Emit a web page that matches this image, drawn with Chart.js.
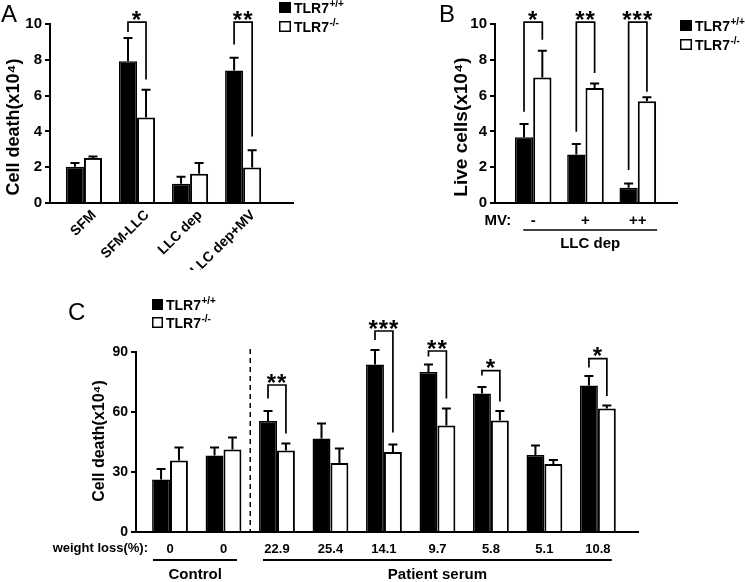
<!DOCTYPE html>
<html><head><meta charset="utf-8">
<script src="https://cdn.jsdelivr.net/npm/chart.js@4.4.0/dist/chart.umd.min.js"></script>
<style>
html,body{margin:0;padding:0;background:#fff;}
#wrap{position:relative;width:745px;height:582px;overflow:hidden;background:#fff;}
.pane{position:absolute;}
canvas{display:block;}
</style></head><body>
<div id="wrap">
<div class="pane" style="left:0;top:0;"><canvas id="cA" width="380" height="270"></canvas></div>
<div class="pane" style="left:380px;top:0;"><canvas id="cB" width="365" height="270"></canvas></div>
<div class="pane" style="left:0;top:270px;"><canvas id="cC" width="745" height="312"></canvas></div>
</div>
<script>
// ---------- data ----------
const seriesNames = ['TLR7', 'TLR7'];
const seriesSup = ['+/+', '-/-'];

// Panel A
const catsA = ['SFM', 'SFM-LLC', 'LLC dep', 'LLC dep+MV'];
const wtA = [2.03, 7.92, 1.08, 7.40];
const wtErrA = [0.21, 1.30, 0.38, 0.72];
const koA = [2.52, 4.78, 1.64, 1.99];
const koErrA = [0.08, 1.54, 0.60, 0.96];
const sigA = [
  {g: 1, top: 10.1, l: 9.55, r: 6.9, s: '*'},
  {g: 3, top: 10.1, l: 8.85, r: 3.72, s: '**'}
];

// Panel B
const catsB = ['-', '+', '++'];
const wtB = [3.67, 2.71, 0.85];
const wtErrB = [0.74, 0.58, 0.24];
const koB = [7.01, 6.42, 5.68];
const koErrB = [1.49, 0.26, 0.23];
const sigB = [
  {g: 0, top: 10.1, l: 5.1, r: 9.12, s: '*'},
  {g: 1, top: 10.1, l: 3.98, r: 7.26, s: '**'},
  {g: 2, top: 10.1, l: 1.85, r: 6.22, s: '***'}
];

// Panel C
const wlC = ['0', '0', '22.9', '25.4', '14.1', '9.7', '5.8', '5.1', '10.8'];
const wtC = [26.3, 38.2, 55.5, 46.8, 83.8, 80.0, 69.3, 38.5, 73.3];
const wtErrC = [5.2, 4.0, 5.0, 7.4, 7.2, 3.7, 3.2, 4.7, 4.7];
const koC = [35.7, 41.3, 40.8, 34.5, 40.0, 53.2, 55.7, 34.0, 61.7];
const koErrC = [6.6, 5.9, 3.4, 7.2, 3.8, 8.5, 4.8, 2.0, 1.6];
const sigC = [
  {g: 2, top: 73.5, l: 66.8, r: 49.3, s: '**'},
  {g: 4, top: 100.5, l: 96.0, r: 49.7, s: '***'},
  {g: 5, top: 90.5, l: 87.7, r: 66.8, s: '**'},
  {g: 6, top: 80.7, l: 78.2, r: 65.2, s: '*'},
  {g: 8, top: 86.7, l: 82.3, r: 68.0, s: '*'}
];

// ---------- helpers ----------
const FAM = "'Liberation Sans', Arial, Helvetica, sans-serif";
Chart.defaults.font.family = FAM;
Chart.defaults.font.weight = 'bold';
Chart.defaults.color = '#000';
Chart.defaults.animation = false;

function mkData(wt, wtE, ko, koE, cp) {
  return { datasets: [
    {label: seriesNames[0] + seriesSup[0], data: wt.map((v, i) => ({x: i, y: v})), errUp: wtE,
     backgroundColor: '#000', borderColor: '#000', borderWidth: 1.5, categoryPercentage: cp, barPercentage: 1},
    {label: seriesNames[1] + seriesSup[1], data: ko.map((v, i) => ({x: i, y: v})), errUp: koE,
     backgroundColor: '#fff', borderColor: '#000', borderWidth: 2, categoryPercentage: cp, barPercentage: 1}
  ]};
}

const errPlugin = {
  id: 'errbars',
  afterDatasetsDraw(chart) {
    const ctx = chart.ctx, ys = chart.scales.y;
    chart.data.datasets.forEach((ds, di) => {
      const meta = chart.getDatasetMeta(di);
      meta.data.forEach((bar, i) => {
        const v = ds.data[i].y, e = ds.errUp[i];
        const x = bar.x, y0 = ys.getPixelForValue(v), y1 = ys.getPixelForValue(v + e);
        ctx.save();
        ctx.strokeStyle = '#000'; ctx.lineWidth = 2;
        ctx.beginPath();
        ctx.moveTo(x, y0); ctx.lineTo(x, y1);
        ctx.moveTo(x - 4.5, y1); ctx.lineTo(x + 4.5, y1);
        ctx.stroke();
        ctx.restore();
      });
    });
  }
};

function bracketPlugin(brs, fs) {
  return {
    id: 'brackets',
    afterDatasetsDraw(chart) {
      const ctx = chart.ctx, ys = chart.scales.y;
      const m0 = chart.getDatasetMeta(0), m1 = chart.getDatasetMeta(1);
      brs.forEach(b => {
        const xl = m0.data[b.g].x, xr = m1.data[b.g].x;
        const yt = ys.getPixelForValue(b.top);
        ctx.save();
        ctx.strokeStyle = '#000'; ctx.lineWidth = 1.7;
        ctx.beginPath();
        ctx.moveTo(xl, ys.getPixelForValue(b.l)); ctx.lineTo(xl, yt);
        ctx.lineTo(xr, yt); ctx.lineTo(xr, ys.getPixelForValue(b.r));
        ctx.stroke();
        ctx.fillStyle = '#000';
        ctx.font = 'bold ' + fs + 'px ' + FAM;
        if ('letterSpacing' in ctx) ctx.letterSpacing = '1px';
        ctx.textAlign = 'center'; ctx.textBaseline = 'alphabetic';
        ctx.fillText(b.s, (xl + xr) / 2, yt + fs * 0.24);
        ctx.restore();
      });
    }
  };
}

function drawKey(ctx, x, y, w, h, idx, fs, sfs) {
  ctx.save();
  ctx.lineWidth = 1.5; ctx.strokeStyle = '#000';
  ctx.fillStyle = idx === 0 ? '#000' : '#fff';
  ctx.fillRect(x, y, w, h); ctx.strokeRect(x + 0.75, y + 0.75, w - 1.5, h - 1.5);
  ctx.fillStyle = '#000';
  ctx.font = 'bold ' + fs + 'px ' + FAM;
  ctx.textAlign = 'left'; ctx.textBaseline = 'alphabetic';
  const tx = x + w + 3, by = y + h;
  ctx.fillText(seriesNames[idx], tx, by);
  const tw = ctx.measureText(seriesNames[idx]).width;
  ctx.font = 'bold ' + sfs + 'px ' + FAM;
  ctx.fillText(seriesSup[idx], tx + tw + 0.5, by - fs * 0.42);
  ctx.restore();
}

function text(ctx, s, x, y, font, align, rot) {
  ctx.save();
  ctx.fillStyle = '#000'; ctx.font = font;
  ctx.textAlign = align || 'left'; ctx.textBaseline = 'alphabetic';
  ctx.translate(x, y);
  if (rot) ctx.rotate(rot);
  ctx.fillText(s, 0, 0);
  ctx.restore();
}

function yAxisOpts(max, step, fs, width) {
  return {
    min: 0, max: max,
    ticks: {stepSize: step, padding: 3, font: {size: fs, weight: 'bold'}, color: '#000'},
    grid: {drawOnChartArea: false, color: '#000', lineWidth: 2, tickLength: 5},
    border: {display: true, color: '#000', width: 2},
    afterFit: s => { s.width = width; }
  };
}

function baseOpts(padding) {
  return {
    responsive: false, animation: false, devicePixelRatio: 1,
    layout: {padding: padding},
    plugins: {legend: {display: false}, tooltip: {enabled: false}}
  };
}

// ---------- Panel A ----------
const optA = baseOpts({left: 0, top: 24, right: 87, bottom: 0});
optA.scales = {
  x: {type: 'linear', min: -0.64, max: 3.94, offset: false,
      grid: {display: false, drawTicks: false, offset: false},
      border: {display: true, color: '#000', width: 2},
      ticks: {stepSize: 1, includeBounds: false, autoSkip: false, minRotation: 45, maxRotation: 45, padding: 4,
              labelOffset: 10, font: {size: 14, weight: 'bold'}, color: '#000',
              callback: v => Number.isInteger(v) ? catsA[v] : ''},
      afterFit: s => { s.height = 67; }},
  y: yAxisOpts(10, 2, 15, 50)
};
new Chart(document.getElementById('cA'), {
  type: 'bar',
  data: mkData(wtA, wtErrA, koA, koErrA, 0.68),
  options: optA,
  plugins: [errPlugin, bracketPlugin(sigA, 24), {
    id: 'decoA',
    afterDraw(chart) {
      const ctx = chart.ctx;
      text(ctx, 'A', 1, 22, '24px ' + FAM);
      drawKey(ctx, 279, 2, 12, 11, 0, 14, 10);
      drawKey(ctx, 279, 21, 12, 11, 1, 14, 10);
      text(ctx, 'Cell death(x10\u2074)', 19, 127, 'bold 18px ' + FAM, 'center', -Math.PI / 2);
    }
  }]
});

// ---------- Panel B ----------
const optB = baseOpts({left: 0, top: 24, right: 68, bottom: 0});
optB.scales = {
  x: {type: 'linear', min: -0.73, max: 2.75, offset: false,
      grid: {display: false, drawTicks: false, offset: false},
      border: {display: true, color: '#000', width: 2},
      ticks: {stepSize: 1, includeBounds: false, autoSkip: false, maxRotation: 0, padding: 9,
              font: {size: 15, weight: 'bold'}, color: '#000',
              callback: v => Number.isInteger(v) ? catsB[v] : ''},
      afterFit: s => { s.height = 67; }},
  y: yAxisOpts(10, 2, 15, 115)
};
new Chart(document.getElementById('cB'), {
  type: 'bar',
  data: mkData(wtB, wtErrB, koB, koErrB, 0.70),
  options: optB,
  plugins: [errPlugin, bracketPlugin(sigB, 24), {
    id: 'decoB',
    afterDraw(chart) {
      const ctx = chart.ctx, xs = chart.scales.x;
      text(ctx, 'B', 59, 22, '24px ' + FAM);
      drawKey(ctx, 300, 20, 12, 11, 0, 14, 10);
      drawKey(ctx, 300, 39, 12, 11, 1, 14, 10);
      text(ctx, 'Live cells(x10\u2074)', 87, 127, 'bold 19px ' + FAM, 'center', -Math.PI / 2);
      text(ctx, 'MV:', xs.getPixelForValue(-0.42), 225, 'bold 15px ' + FAM, 'right');
      ctx.save(); ctx.strokeStyle = '#000'; ctx.lineWidth = 1.5;
      ctx.beginPath(); ctx.moveTo(xs.getPixelForValue(-0.19), 230); ctx.lineTo(xs.getPixelForValue(2.37), 230); ctx.stroke();
      ctx.restore();
      text(ctx, 'LLC dep', xs.getPixelForValue(1.09), 248, 'bold 15px ' + FAM, 'center');
    }
  }]
});

// ---------- Panel C ----------
const optC = baseOpts({left: 0, top: 82, right: 107, bottom: 0});
optC.scales = {
  x: {type: 'linear', min: -0.636, max: 8.75, offset: false,
      grid: {display: false, drawTicks: false, offset: false},
      border: {display: true, color: '#000', width: 2},
      ticks: {stepSize: 1, includeBounds: false, autoSkip: false, maxRotation: 0, padding: 10,
              font: {size: 13, weight: 'bold'}, color: '#000',
              callback: v => Number.isInteger(v) ? wlC[v] : ''},
      afterFit: s => { s.height = 50; }},
  y: yAxisOpts(90, 30, 14, 136)
};
new Chart(document.getElementById('cC'), {
  type: 'bar',
  data: mkData(wtC, wtErrC, koC, koErrC, 0.67),
  options: optC,
  plugins: [errPlugin, bracketPlugin(sigC, 24), {
    id: 'decoC',
    afterDraw(chart) {
      const ctx = chart.ctx, xs = chart.scales.x, ca = chart.chartArea;
      text(ctx, 'C', 68, 50, '24px ' + FAM);
      drawKey(ctx, 152, 29, 11, 11, 0, 14, 10);
      drawKey(ctx, 152, 47, 11, 11, 1, 14, 10);
      text(ctx, 'Cell death(x10\u2074)', 104, 171, 'bold 16px ' + FAM, 'center', -Math.PI / 2);
      text(ctx, 'weight loss(%):', 148, 282, 'bold 13px ' + FAM, 'right');
      // dashed separator
      ctx.save(); ctx.strokeStyle = '#000'; ctx.lineWidth = 1.5; ctx.setLineDash([5, 4]);
      const dx = xs.getPixelForValue(1.5);
      ctx.beginPath(); ctx.moveTo(dx, 79); ctx.lineTo(dx, ca.bottom); ctx.stroke();
      ctx.restore();
      // group underlines
      ctx.save(); ctx.strokeStyle = '#000'; ctx.lineWidth = 2;
      ctx.beginPath();
      ctx.moveTo(xs.getPixelForValue(-0.318), 290); ctx.lineTo(xs.getPixelForValue(1.252), 290);
      ctx.moveTo(xs.getPixelForValue(1.738), 290); ctx.lineTo(xs.getPixelForValue(8.26), 290);
      ctx.stroke(); ctx.restore();
      text(ctx, 'Control', xs.getPixelForValue(0.47), 309, 'bold 15px ' + FAM, 'center');
      text(ctx, 'Patient serum', xs.getPixelForValue(5.0), 309, 'bold 15px ' + FAM, 'center');
    }
  }]
});
</script>
</body></html>
